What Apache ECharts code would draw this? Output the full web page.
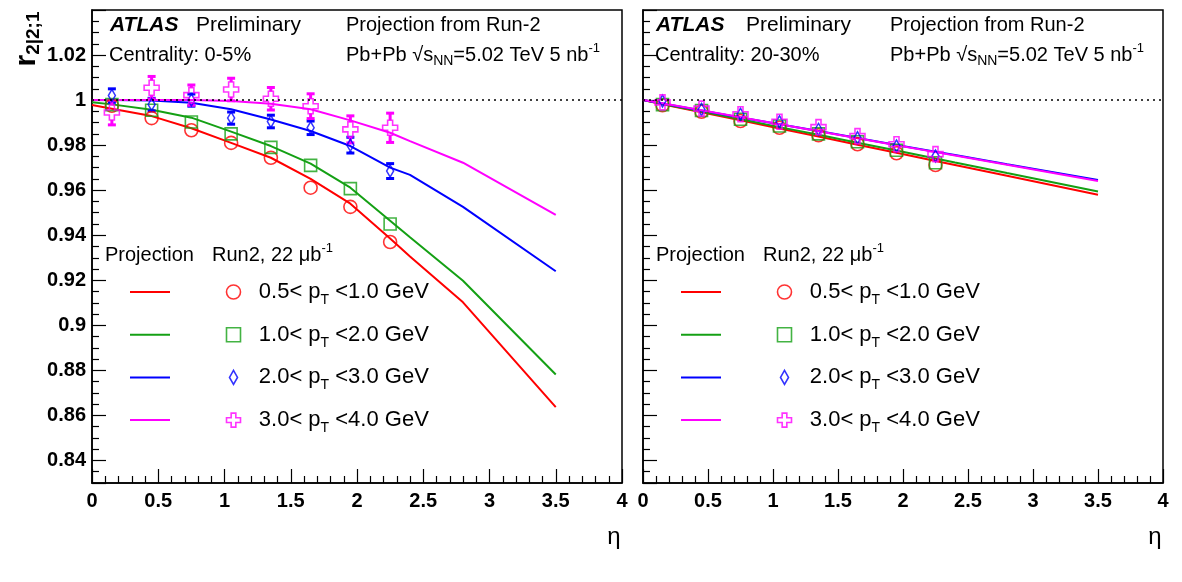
<!DOCTYPE html>
<html>
<head>
<meta charset="utf-8">
<title>r2|2;1 projection</title>
<script src="https://cdn.jsdelivr.net/npm/echarts/dist/echarts.min.js"></script>
<style>
  html, body { margin: 0; padding: 0; background: #fff; }
  #chart { width: 1182px; height: 582px; }
</style>
</head>
<body>
<div id="chart"></div>
<script>
// eta bins of the Run-2 points and nodes of the projection curves
const etaPts = [0.15, 0.45, 0.75, 1.05, 1.35, 1.65, 1.95, 2.25];
const etaLine = [0, 0.15, 0.45, 0.75, 1.05, 1.35, 1.65, 1.95, 2.25, 2.4, 2.8, 3.5];
const ptEdges = ["0.5", "1.0", "2.0", "3.0", "4.0"];
const centLabels = ["0-5%", "20-30%"];

// centrality 0-5%, Run2 points
const c05Pt1 = [0.9975, 0.992, 0.9866, 0.981, 0.9744, 0.9611, 0.9526, 0.937];
const c05Pt2 = [0.998, 0.9955, 0.9903, 0.985, 0.979, 0.971, 0.9607, 0.945];
const c05Pt3 = [1.002, 0.998, 1.0, 0.992, 0.9905, 0.9877, 0.98, 0.9685];
const c05Pt4 = [0.9945, 1.0055, 1.0022, 1.0047, 1.0006, 0.9973, 0.987, 0.9877];
const c05Err1 = [0.001, 0.001, 0.001, 0.001, 0.001, 0.001, 0.001, 0.0012];
const c05Err2 = [0.001, 0.001, 0.001, 0.001, 0.001, 0.0012, 0.0012, 0.0014];
const c05Err3 = [0.003, 0.0028, 0.0027, 0.0027, 0.0028, 0.003, 0.0035, 0.0033];
const c05Err4 = [0.0055, 0.005, 0.0045, 0.005, 0.005, 0.0055, 0.006, 0.0065];

// centrality 0-5%, projection curves
const c05Line1 = [0.9978, 0.9962, 0.9929, 0.9875, 0.981, 0.9744, 0.965, 0.954, 0.9385, 0.9306, 0.9102, 0.8637];
const c05Line2 = [0.999, 0.9981, 0.9957, 0.9922, 0.986, 0.9796, 0.9718, 0.9611, 0.9464, 0.9391, 0.9198, 0.8782];
const c05Line3 = [1.0, 1.0, 0.9998, 0.9988, 0.9959, 0.9914, 0.9863, 0.9796, 0.970, 0.9668, 0.9526, 0.924];
const c05Line4 = [1.0, 1.0, 1.0, 1.0, 0.9996, 0.9984, 0.9959, 0.991, 0.9855, 0.9818, 0.9722, 0.949];

// centrality 20-30%, Run2 points
const c2030Pt1 = [0.9977, 0.9948, 0.9907, 0.9877, 0.9844, 0.9804, 0.9764, 0.9712];
const c2030Pt2 = [0.998, 0.9954, 0.9915, 0.9885, 0.985, 0.9815, 0.9777, 0.9722];
const c2030Pt3 = [0.9996, 0.9958, 0.9937, 0.9904, 0.987, 0.9833, 0.9796, 0.9752];
const c2030Pt4 = [0.999, 0.9962, 0.9937, 0.9904, 0.988, 0.984, 0.9804, 0.976];
const c2030Err1 = [0.0005, 0.0005, 0.0005, 0.0005, 0.0006, 0.0006, 0.0007, 0.0008];
const c2030Err2 = [0.0005, 0.0005, 0.0005, 0.0005, 0.0006, 0.0006, 0.0007, 0.0008];
const c2030Err3 = [0.001, 0.001, 0.001, 0.0012, 0.0014, 0.0016, 0.0016, 0.0018];
const c2030Err4 = [0.001, 0.001, 0.001, 0.0012, 0.0014, 0.0016, 0.0016, 0.0018];

// centrality 20-30%, projection curves
const c2030Line1 = [1.0, 0.9982, 0.9946, 0.991, 0.9874, 0.9838, 0.9802, 0.9766, 0.973, 0.9712, 0.9664, 0.958];
const c2030Line2 = [1.0, 0.9983, 0.9949, 0.9915, 0.988, 0.9846, 0.9811, 0.9776, 0.9741, 0.9723, 0.9676, 0.9594];
const c2030Line3 = [1.0, 0.9985, 0.9954, 0.9923, 0.9893, 0.9863, 0.9832, 0.9801, 0.9771, 0.9756, 0.9715, 0.9645];
const c2030Line4 = [1.0, 0.9986, 0.9955, 0.9924, 0.9893, 0.9862, 0.9831, 0.98, 0.9769, 0.9754, 0.9713, 0.9641];

const colors = ["#ff0000", "#14a014", "#0000ff", "#ff00ff"];
const FONT = "Liberation Sans";
const squarePath = "path://M0,0 L10,0 L10,10 L0,10 Z";
const diamondPath = "path://M4,0 L8,7 L4,14 L0,7 Z";
const crossPath = "path://M1,0 L2,0 L2,1 L3,1 L3,2 L2,2 L2,3 L1,3 L1,2 L0,2 L0,1 L1,1 Z";
const markers = [
  { symbol: "circle", size: 13, half: 6.5 },
  { symbol: squarePath, size: 12, half: 6 },
  { symbol: diamondPath, size: [7, 12], half: 6 },
  { symbol: crossPath, size: 15, half: 7.5 },
];

const panels = [
  {
    pts: [c05Pt1, c05Pt2, c05Pt3, c05Pt4],
    errs: [c05Err1, c05Err2, c05Err3, c05Err4],
    lines: [c05Line1, c05Line2, c05Line3, c05Line4],
  },
  {
    pts: [c2030Pt1, c2030Pt2, c2030Pt3, c2030Pt4],
    errs: [c2030Err1, c2030Err2, c2030Err3, c2030Err4],
    lines: [c2030Line1, c2030Line2, c2030Line3, c2030Line4],
  },
];

const grids = [
  { left: 92, top: 10, width: 530, height: 473 },
  { left: 643, top: 10, width: 520, height: 473 },
];

// vertical error bar with small caps, left out where the marker covers it
function errorBars(color, half) {
  return function (params, api) {
    const x = api.value(0);
    const y = api.value(1);
    const e = api.value(2);
    const c = api.coord([x, y]);
    const hi = api.coord([x, y + e]);
    const lo = api.coord([x, y - e]);
    const style = { stroke: color, lineWidth: 3 };
    const kids = [];
    if (hi[1] < c[1] - half) {
      kids.push({ type: "line", shape: { x1: c[0], y1: c[1] - half, x2: c[0], y2: hi[1] }, style: style });
      kids.push({ type: "line", shape: { x1: c[0] - 4, y1: hi[1], x2: c[0] + 4, y2: hi[1] }, style: style });
    }
    if (lo[1] > c[1] + half) {
      kids.push({ type: "line", shape: { x1: c[0], y1: c[1] + half, x2: c[0], y2: lo[1] }, style: style });
      kids.push({ type: "line", shape: { x1: c[0] - 4, y1: lo[1], x2: c[0] + 4, y2: lo[1] }, style: style });
    }
    return { type: "group", children: kids };
  };
}

const series = [];
panels.forEach((p, k) => {
  p.lines.forEach((vals, i) => {
    const s = {
      type: "line",
      name: "proj" + i,
      xAxisIndex: k,
      yAxisIndex: k,
      data: etaLine.map((x, j) => [x, vals[j]]),
      symbol: "none",
      lineStyle: { color: colors[i], width: 2 },
      itemStyle: { color: colors[i] },
      silent: true,
      z: 2,
    };
    if (i === 0) {
      s.markLine = {
        silent: true,
        symbol: "none",
        label: { show: false },
        lineStyle: { color: "#000", type: [2, 4], width: 1.5 },
        data: [{ yAxis: 1 }],
      };
    }
    series.push(s);
  });
  p.pts.forEach((vals, i) => {
    series.push({
      type: "custom",
      name: "err" + i,
      xAxisIndex: k,
      yAxisIndex: k,
      data: etaPts.map((x, j) => [x, vals[j], p.errs[i][j]]),
      renderItem: errorBars(colors[i], markers[i].half),
      silent: true,
      z: 3,
    });
    series.push({
      type: "scatter",
      name: "run2" + i,
      xAxisIndex: k,
      yAxisIndex: k,
      data: etaPts.map((x, j) => [x, vals[j]]),
      symbol: markers[i].symbol,
      symbolSize: markers[i].size,
      itemStyle: { color: "rgba(0,0,0,0)", borderColor: colors[i], borderWidth: 1.6 },
      silent: true,
      z: 4,
    });
  });
});

const legendText = {
  color: "#000",
  fontFamily: FONT,
  fontSize: 22,
  lineHeight: 32,
  rich: {
    sub: { fontFamily: FONT, fontSize: 14, lineHeight: 16, padding: [16, 0, 0, 0], color: "#000" },
  },
};

const legends = [];
[0, 1].forEach((k) => {
  const dx = grids[k].left - grids[0].left;
  legends.push({
    orient: "vertical",
    left: 130 + dx,
    top: 276,
    padding: 0,
    itemWidth: 40,
    itemHeight: 2,
    itemGap: 10.7,
    selectedMode: false,
    icon: "rect",
    data: [0, 1, 2, 3].map((i) => "proj" + i),
    formatter: () => " ",
    textStyle: legendText,
  });
  // icons are 14 px wide, centred in a 40.6 px slot: the box starts at the icon edge
  legends.push({
    orient: "vertical",
    left: 225.7 + dx,
    top: 276,
    padding: 0,
    itemWidth: 40.6,
    itemHeight: 14,
    itemGap: 10.7,
    selectedMode: false,
    itemStyle: { borderWidth: 1.6 },
    data: [0, 1, 2, 3].map((i) =>
      i === 2 ? { name: "run2" + i, icon: diamondPath } : "run2" + i
    ),
    formatter: (name) => {
      const i = +name.slice(4);
      return ptEdges[i] + "< p{sub|T} <" + ptEdges[i + 1] + " GeV";
    },
    textStyle: legendText,
  });
});

function txt(x, y, text, size, extra) {
  return {
    type: "text",
    x: x,
    y: y,
    silent: true,
    style: Object.assign(
      {
        text: text,
        fill: "#000",
        fontFamily: FONT,
        fontSize: size,
        verticalAlign: "middle",
        rich: {
          sup: { fontFamily: FONT, fontSize: 13, padding: [0, 0, 14, 0], fill: "#000" },
          sub: { fontFamily: FONT, fontSize: 14, padding: [12, 0, 0, 0], fill: "#000" },
        },
      },
      extra || {}
    ),
  };
}

const graphics = [];
[0, 1].forEach((k) => {
  const o = k === 0 ? 0 : 546;
  graphics.push(txt(110 + o, 25, "ATLAS", 21, { fontWeight: "bold", fontStyle: "italic" }));
  graphics.push(txt(196 + o + (k ? 4 : 0), 25, "Preliminary", 21));
  graphics.push(txt(346 + o - (k ? 2 : 0), 25, "Projection from Run-2", 20));
  graphics.push(txt(109 + o, 55, "Centrality: " + centLabels[k], 20));
  graphics.push(txt(346 + o - (k ? 2 : 0), 55, "Pb+Pb \u221As{sub|NN}=5.02 TeV 5 nb{sup|-1}", 20));
  const dx = grids[k].left - grids[0].left;
  graphics.push(txt(105 + dx, 255, "Projection", 20));
  graphics.push(txt(212 + dx, 255, "Run2, 22 \u03bcb{sup|-1}", 20));
  graphics.push(txt(grids[k].left + grids[k].width - 8, 537, "\u03b7", 24, { align: "center" }));
});
graphics.push({
  type: "text",
  x: 27,
  y: 39,
  rotation: Math.PI / 2,
  silent: true,
  style: {
    text: "{r|r}{s|2|2;1}",
    align: "center",
    verticalAlign: "middle",
    rich: {
      r: { fontFamily: FONT, fontSize: 30, fontWeight: "bold", fill: "#000" },
      s: { fontFamily: FONT, fontSize: 19, fontWeight: "bold", padding: [14, 0, 0, 0], fill: "#000" },
    },
  },
});

const axisLabelStyle = { color: "#000", fontFamily: FONT, fontWeight: "bold", fontSize: 20 };

const chart = echarts.init(document.getElementById("chart"), null, { renderer: "canvas" });
chart.setOption({
  animation: false,
  backgroundColor: "#fff",
  grid: grids.map((g) => Object.assign({ show: true, borderColor: "#000", borderWidth: 1.5 }, g)),
  xAxis: [0, 1].map((k) => ({
    type: "value",
    gridIndex: k,
    min: 0,
    max: 4,
    interval: 0.5,
    axisLine: { show: true, lineStyle: { color: "#000", width: 1.5 } },
    axisTick: { show: true, inside: true, length: 14, lineStyle: { color: "#000", width: 1.2 } },
    minorTick: { show: true, splitNumber: 5, length: 7, lineStyle: { color: "#000", width: 1.2 } },
    splitLine: { show: false },
    axisLabel: Object.assign({ margin: 8 }, axisLabelStyle),
  })),
  yAxis: [0, 1].map((k) => ({
    type: "value",
    gridIndex: k,
    min: 0.83,
    max: 1.04,
    splitNumber: 10,
    axisLine: { show: true, lineStyle: { color: "#000", width: 1.5 } },
    axisTick: { show: true, inside: true, length: 14, lineStyle: { color: "#000", width: 1.2 } },
    minorTick: { show: true, splitNumber: 4, length: 7, lineStyle: { color: "#000", width: 1.2 } },
    splitLine: { show: false },
    axisLabel: Object.assign(
      { show: k === 0, margin: 6, showMinLabel: false, showMaxLabel: false },
      axisLabelStyle
    ),
  })),
  legend: legends,
  graphic: graphics,
  series: series,
});
</script>
</body>
</html>
